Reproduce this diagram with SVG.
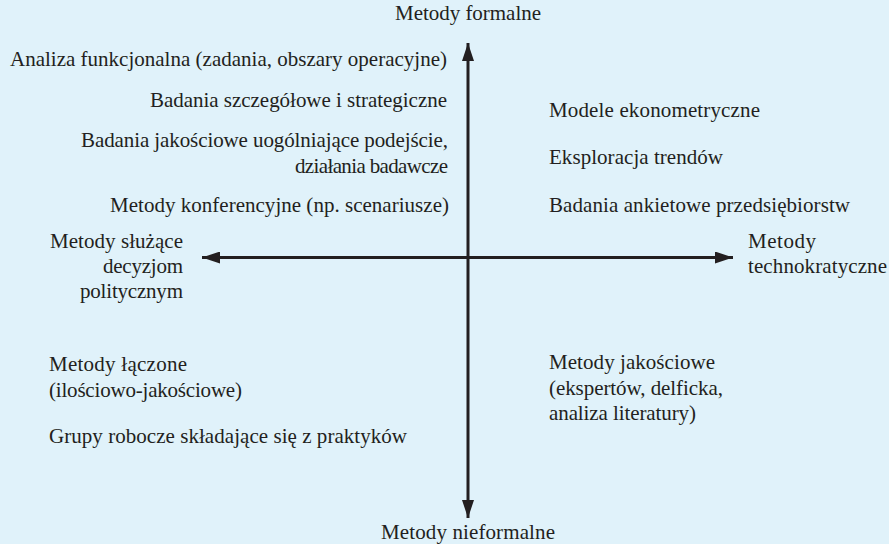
<svg xmlns="http://www.w3.org/2000/svg" width="889" height="544" viewBox="0 0 889 544">
<defs>
<style>
text{font-size:21px;fill:#231f20}
.r{text-anchor:end}
.m{text-anchor:middle}
.ax{stroke:#231f20;stroke-width:3;fill:none}
</style>
<marker id="ah" viewBox="0 0 18 12" refX="18" refY="6" markerWidth="18" markerHeight="12" markerUnits="userSpaceOnUse" orient="auto-start-reverse">
<path d="M0,0 L18,6 L0,12 Z" fill="#231f20"/>
</marker>
</defs>
<rect width="889" height="544" fill="#e0f2fa"/>
<g id="connectors">
<line class="ax" x1="468" y1="43" x2="468" y2="518" marker-start="url(#ah)" marker-end="url(#ah)"/>
<line class="ax" x1="202" y1="257.5" x2="733" y2="257.5" marker-start="url(#ah)" marker-end="url(#ah)"/>
</g>
<g font-family="Liberation Serif, Times New Roman, Tinos, DejaVu Serif, Noto Serif, serif" lengthAdjust="spacing">
<g id="top"><text class="m" x="468" y="20" textLength="146">Metody formalne</text></g>
<g id="bottom"><text class="m" x="468" y="539" textLength="174">Metody nieformalne</text></g>
<g id="left"><text class="r" x="183" y="248" textLength="133">Metody służące</text><text class="r" x="183" y="273" textLength="80">decyzjom</text><text class="r" x="183" y="298" textLength="103">politycznym</text></g>
<g id="right"><text x="748" y="248" textLength="68">Metody</text><text x="748" y="273" textLength="139">technokratyczne</text></g>
<g id="tl1"><text x="10" y="66" textLength="437">Analiza funkcjonalna (zadania, obszary operacyjne)</text></g>
<g id="tl2"><text class="r" x="447" y="107" textLength="297">Badania szczegółowe i strategiczne</text></g>
<g id="tl3"><text class="r" x="448" y="147" textLength="367">Badania jakościowe uogólniające podejście,</text><text class="r" x="448" y="173" textLength="153">działania badawcze</text></g>
<g id="tl4"><text class="r" x="449" y="212" textLength="339">Metody konferencyjne (np. scenariusze)</text></g>
<g id="tr1"><text x="549" y="117" textLength="211">Modele ekonometryczne</text></g>
<g id="tr2"><text x="549" y="164" textLength="174">Eksploracja trendów</text></g>
<g id="tr3"><text x="549" y="212" textLength="301">Badania ankietowe przedsiębiorstw</text></g>
<g id="bl1"><text x="49" y="371" textLength="138">Metody łączone</text><text x="49" y="397" textLength="193">(ilościowo-jakościowe)</text></g>
<g id="bl2"><text x="49" y="443" textLength="358">Grupy robocze składające się z praktyków</text></g>
<g id="br1"><text x="549" y="369" textLength="166">Metody jakościowe</text><text x="549" y="395" textLength="174">(ekspertów, delficka,</text><text x="549" y="420" textLength="147">analiza literatury)</text></g>
</g>
</svg>
